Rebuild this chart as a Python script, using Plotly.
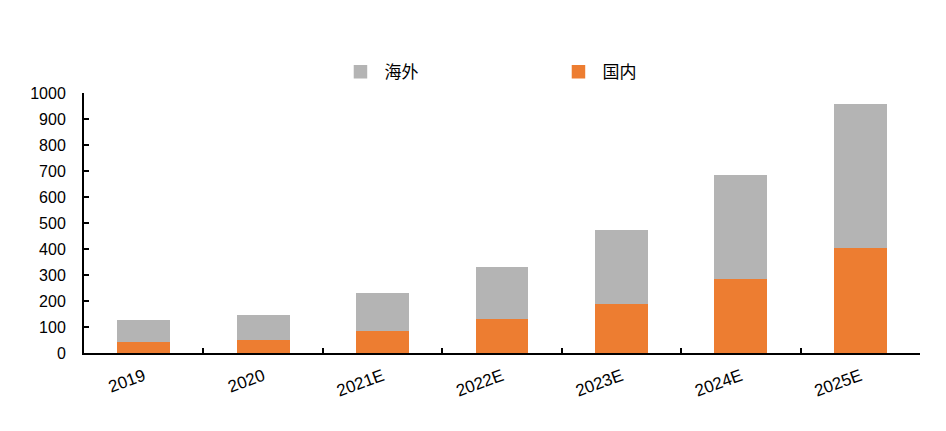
import plotly.graph_objects as go

categories = ["2019", "2020", "2021E", "2022E", "2023E", "2024E", "2025E"]
domestic = [47, 54, 88, 135, 193, 287, 405]
overseas = [77, 91, 138, 191, 279, 396, 551]
y_ticks = [0, 100, 200, 300, 400, 500, 600, 700, 800, 900, 1000]

fig = go.Figure()
fig.add_trace(go.Bar(x=categories, y=domestic, name="国内",
                     marker=dict(color="#ED7D31", line=dict(width=1.5, color="#ED7D31"))))
fig.add_trace(go.Bar(x=categories, y=overseas, name="海外",
                     marker=dict(color="#B4B4B4", line=dict(width=1.5, color="#B4B4B4"))))

fig.update_layout(
    width=946, height=431,
    barmode="stack",
    bargap=0.57,
    plot_bgcolor="white",
    paper_bgcolor="white",
    margin=dict(l=76, r=34, t=85, b=86),
    font=dict(family="Liberation Sans, Arial, Noto Sans CJK SC", size=16, color="black"),
    legend=dict(
        orientation="h",
        traceorder="reversed",
        x=0.302, xanchor="left",
        y=1.08, yanchor="middle",
        itemwidth=38,
        entrywidth=165, entrywidthmode="pixels",
        font=dict(family="Noto Sans CJK SC, Liberation Sans", size=17, color="black"),
        bgcolor="rgba(0,0,0,0)",
    ),
    showlegend=True,
)
fig.update_xaxes(
    type="category",
    showline=True, linecolor="black", linewidth=2,
    ticks="inside", tickson="boundaries", ticklen=5, tickwidth=2, tickcolor="black",
    tickangle=-20,
    ticklabelstandoff=5,
    tickfont=dict(size=17, family="Liberation Sans, Arial"),
    showgrid=False,
)
fig.update_yaxes(
    range=[0, 1000],
    tickvals=y_ticks,
    showline=True, linecolor="black", linewidth=2,
    ticks="inside", ticklen=5, tickwidth=2, tickcolor="black",
    ticklabelstandoff=13,
    tickfont=dict(size=16, family="Liberation Sans, Arial"),
    showgrid=False, zeroline=False,
)

fig.write_html("out.html")
